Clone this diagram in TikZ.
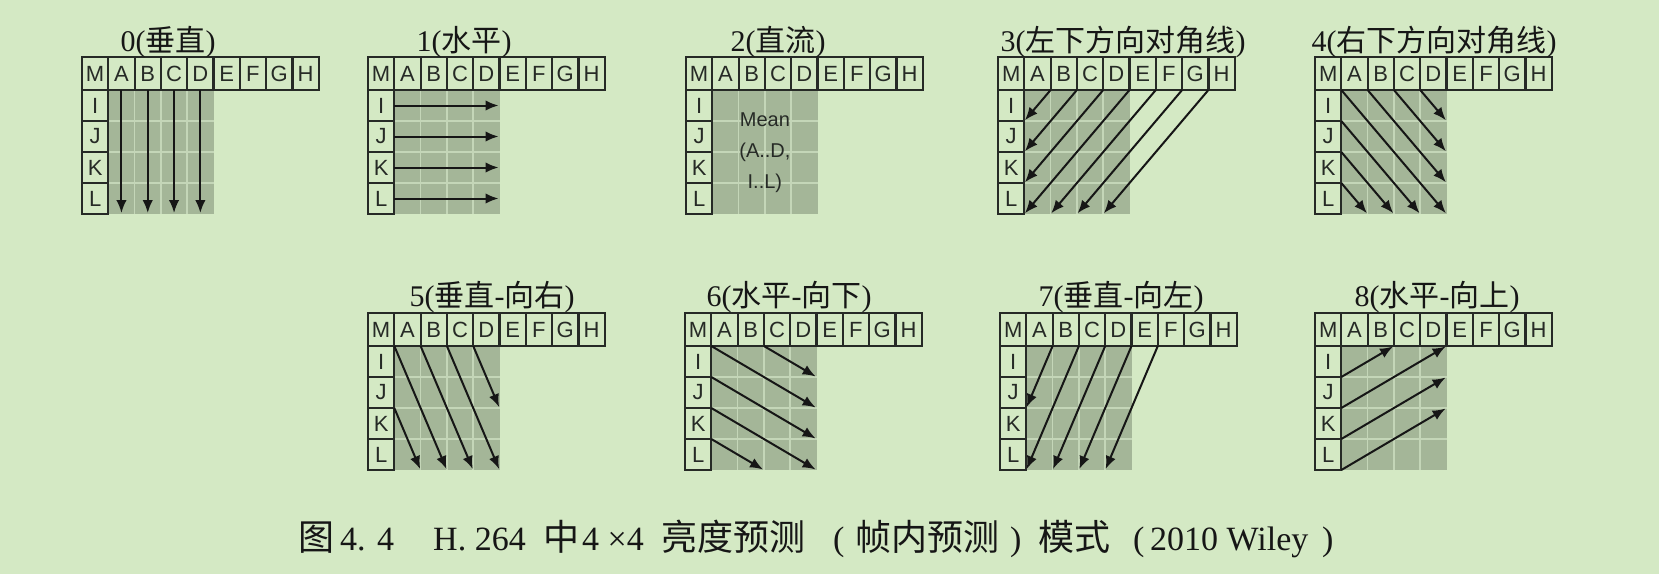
\documentclass[tikz,border=0pt]{standalone}
\usepackage{fontspec}
\setmainfont{Liberation Serif}
\newfontfamily\cjk{Noto Sans CJK SC}
\newfontfamily\lsans{Liberation Sans}
\usetikzlibrary{arrows.meta,calc}
\definecolor{bgc}{RGB}{212,233,196}
\definecolor{blockc}{RGB}{164,182,152}
\definecolor{gridc}{RGB}{196,214,184}
\definecolor{linec}{RGB}{38,42,38}
\definecolor{txtc}{RGB}{22,22,22}
\tikzset{
 cellbox/.style={draw=linec, line width=2.2pt},
 celltxt/.style={font=\lsans\fontsize{22}{22}\selectfont, text=linec, inner sep=0pt},
 meantxt/.style={font=\lsans\fontsize{20}{20}\selectfont, text=linec, inner sep=0pt},
 arr/.style={draw=txtc, line width=2pt, -{Latex[length=13pt,width=10.5pt]}, shorten >=1pt},
 ttl/.style={font=\fontsize{30}{32}\selectfont, text=txtc, inner sep=0pt, anchor=base},
 capser/.style={font=\fontsize{34}{36}\selectfont, text=txtc, inner sep=0pt, anchor=base west},
 capcjk/.style={font=\cjk\fontsize{36}{38}\selectfont, text=txtc, inner sep=0pt, anchor=base west},
}
\newcommand\mkpanel[3]{%
 \foreach \i in {0,...,9}{
  \foreach \j in {0,...,5}{
   \pgfmathsetmacro\yy{\j==0 ? 0 : 2+31*\j}
   \coordinate (#1-\i-\j) at ({#2+26.3*\i},{#3+\yy});
  }
 }
 \fill[blockc] (#1-1-1) rectangle (#1-5-5);
 \foreach \i in {2,3,4} \draw[gridc, line width=1.5pt] (#1-\i-1) -- (#1-\i-5);
 \foreach \j in {2,3,4} \draw[gridc, line width=1.5pt] (#1-1-\j) -- (#1-5-\j);
 \foreach \lt [count=\c from 0] in {M,A,B,C,D,E,F,G,H}{
   \pgfmathtruncatemacro\cn{\c+1}
   \draw[cellbox] (#1-\c-0) rectangle (#1-\cn-1);
   \node[celltxt] (#1-t\c) at ($(#1-\c-0)!0.5!(#1-\cn-1)$) {\lt};
 }
 \foreach \lt [count=\r from 1] in {I,J,K,L}{
   \pgfmathtruncatemacro\rn{\r+1}
   \draw[cellbox] (#1-0-\r) rectangle (#1-1-\rn);
   \node[celltxt] (#1-l\r) at ($(#1-0-\r)!0.5!(#1-1-\rn)$) {\lt};
 }
}
\begin{document}
\begin{tikzpicture}[x=1pt,y=-1pt]
\useasboundingbox (0,0) rectangle (1659,574);
\fill[bgc] (0,0) rectangle (1659,574);

\mkpanel{p0}{82}{57}
\mkpanel{p1}{368}{57}
\mkpanel{p2}{686}{57}
\mkpanel{p3}{998}{57}
\mkpanel{p4}{1315}{57}
\mkpanel{p5}{368}{313}
\mkpanel{p6}{685}{313}
\mkpanel{p7}{1000}{313}
\mkpanel{p8}{1315}{313}

% titles
\node[ttl] (t0) at (168,51) {0({\cjk 垂直})};
\node[ttl] (t1) at (464,51) {1({\cjk 水平})};
\node[ttl] (t2) at (778,51) {2({\cjk 直流})};
\node[ttl] (t3) at (1123,51) {3({\cjk 左下方向对角线})};
\node[ttl] (t4) at (1434,51) {4({\cjk 右下方向对角线})};
\node[ttl] (t5) at (492,306) {5({\cjk 垂直}-{\cjk 向右})};
\node[ttl] (t6) at (789,306) {6({\cjk 水平}-{\cjk 向下})};
\node[ttl] (t7) at (1121,306) {7({\cjk 垂直}-{\cjk 向左})};
\node[ttl] (t8) at (1437,306) {8({\cjk 水平}-{\cjk 向上})};

% mode 0
\foreach \i in {1,2,3,4} \draw[arr] ($(p0-\i-1)+(13.15,0)$) -- ($(p0-\i-5)+(13.15,0)$);
% mode 1
\foreach \j in {1,2,3,4} \draw[arr] ($(p1-1-\j)+(0,15.5)$) -- ($(p1-5-\j)+(0,15.5)$);
% mode 2
\node[meantxt] (m1) at ($(p2-3-1)+(0,30)$) {Mean};
\node[meantxt] (m2) at ($(p2-3-1)+(0,62)$) {(A..D,};
\node[meantxt] (m3) at ($(p2-3-1)+(0,93)$) {I..L)};
% mode 3
\draw[arr] (p3-2-1) -- (p3-1-2);
\draw[arr] (p3-3-1) -- (p3-1-3);
\draw[arr] (p3-4-1) -- (p3-1-4);
\draw[arr] (p3-5-1) -- (p3-1-5);
\draw[arr] (p3-6-1) -- (p3-2-5);
\draw[arr] (p3-7-1) -- (p3-3-5);
\draw[arr] (p3-8-1) -- (p3-4-5);
% mode 4
\draw[arr] (p4-1-1) -- (p4-5-5);
\draw[arr] (p4-2-1) -- (p4-5-4);
\draw[arr] (p4-3-1) -- (p4-5-3);
\draw[arr] (p4-4-1) -- (p4-5-2);
\draw[arr] (p4-1-2) -- (p4-4-5);
\draw[arr] (p4-1-3) -- (p4-3-5);
\draw[arr] (p4-1-4) -- (p4-2-5);
% mode 5
\draw[arr] (p5-1-1) -- (p5-3-5);
\draw[arr] (p5-2-1) -- (p5-4-5);
\draw[arr] (p5-3-1) -- (p5-5-5);
\draw[arr] (p5-4-1) -- (p5-5-3);
\draw[arr] (p5-1-3) -- (p5-2-5);
% mode 6
\draw[arr] (p6-1-1) -- (p6-5-3);
\draw[arr] (p6-3-1) -- (p6-5-2);
\draw[arr] (p6-1-2) -- (p6-5-4);
\draw[arr] (p6-1-3) -- (p6-5-5);
\draw[arr] (p6-1-4) -- (p6-3-5);
% mode 7
\draw[arr] (p7-2-1) -- (p7-1-3);
\draw[arr] (p7-3-1) -- (p7-1-5);
\draw[arr] (p7-4-1) -- (p7-2-5);
\draw[arr] (p7-5-1) -- (p7-3-5);
\draw[arr] (p7-6-1) -- (p7-4-5);
% mode 8
\draw[arr] (p8-1-2) -- (p8-3-1);
\draw[arr] (p8-1-3) -- (p8-5-1);
\draw[arr] (p8-1-4) -- (p8-5-2);
\draw[arr] (p8-1-5) -- (p8-5-3);

% caption
\node[capcjk] (c1) at (298,550) {图};
\node[capser] (c2) at (340,550) {4. 4};
\node[capser] (c3) at (433,550) {H. 264};
\node[capcjk] (c4) at (543,550) {中};
\node[capser] (c5) at (582,550) {4 ×4};
\node[capcjk] (c6) at (661,550) {亮度预测};
\node[capser] (c7) at (833,550) {(};
\node[capcjk] (c8) at (855,550) {帧内预测};
\node[capser] (c9) at (1010,550) {)};
\node[capcjk] (c10) at (1038,550) {模式};
\node[capser] (c11) at (1133,550) {(};
\node[capser] (c12) at (1150,550) {2010 Wiley};
\node[capser] (c13) at (1322,550) {)};
\end{tikzpicture}
\end{document}
